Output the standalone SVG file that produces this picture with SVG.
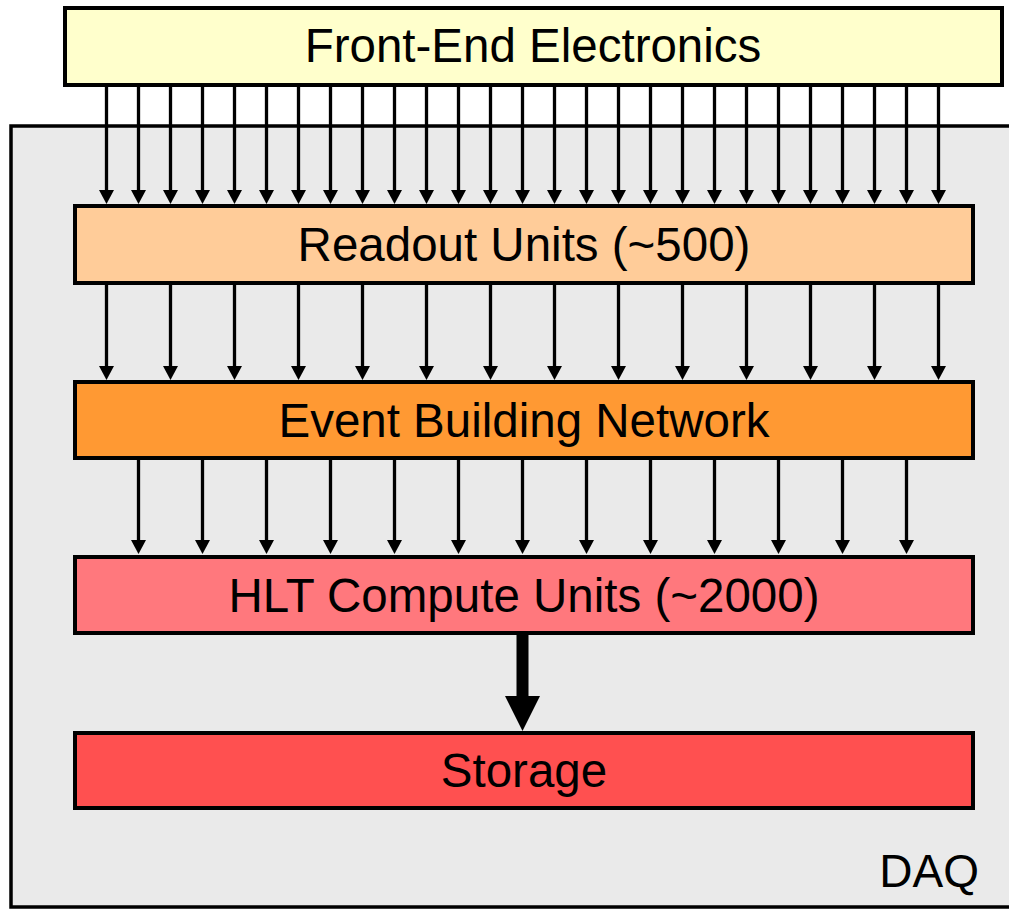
<svg xmlns="http://www.w3.org/2000/svg" width="1009" height="909" viewBox="0 0 1009 909">
  <style>
    .box { stroke: #000; stroke-width: 4; }
    .lbl { font-family: "Liberation Sans", Arial, sans-serif; font-size: 47.5px; fill: #000; text-anchor: middle; }
    .link { stroke: #000; stroke-width: 3.3; fill: none; marker-end: url(#head); }
  </style>
  <defs>
    <marker id="head" markerUnits="userSpaceOnUse" markerWidth="16" markerHeight="16" viewBox="0 0 15 16" refX="2" refY="7.5" orient="auto">
      <path d="M0,0 L14,7.5 L0,15 Z" fill="#000"/>
    </marker>
  </defs>

  <!-- DAQ enclosure -->
  <g id="daq">
    <rect x="11" y="126" width="1010" height="781" fill="#EAEAEA" stroke="#000" stroke-width="3.5"/>
    <text class="lbl" x="979" y="887" style="text-anchor:end;font-size:46px">DAQ</text>
  </g>

  <g id="front-end">
    <rect class="box" x="65" y="8" width="937" height="77" fill="#FFFFCC"/>
    <text class="lbl" x="533" y="62">Front-End Electronics</text>
  </g>

  <g id="readout">
    <rect class="box" x="75" y="206" width="898" height="77" fill="#FFCC99"/>
    <text class="lbl" x="524" y="261">Readout Units (~500)</text>
  </g>

  <g id="event-building">
    <rect class="box" x="75" y="382" width="898" height="76" fill="#FF9933"/>
    <text class="lbl" x="524" y="437">Event Building Network</text>
  </g>

  <g id="hlt">
    <rect class="box" x="75" y="557" width="898" height="76" fill="#FF787D"/>
    <text class="lbl" x="524" y="612">HLT Compute Units (~2000)</text>
  </g>

  <g id="storage">
    <rect class="box" x="75" y="733" width="898" height="75" fill="#FF5050"/>
    <text class="lbl" x="524" y="787">Storage</text>
  </g>

  <g id="connectors">
    <!-- front-end to readout: 27 links, 32 px pitch -->
    <g>
      <path class="link" d="M106.5,87V192"/><path class="link" d="M138.5,87V192"/><path class="link" d="M170.5,87V192"/>
      <path class="link" d="M202.5,87V192"/><path class="link" d="M234.5,87V192"/><path class="link" d="M266.5,87V192"/>
      <path class="link" d="M298.5,87V192"/><path class="link" d="M330.5,87V192"/><path class="link" d="M362.5,87V192"/>
      <path class="link" d="M394.5,87V192"/><path class="link" d="M426.5,87V192"/><path class="link" d="M458.5,87V192"/>
      <path class="link" d="M490.5,87V192"/><path class="link" d="M522.5,87V192"/><path class="link" d="M554.5,87V192"/>
      <path class="link" d="M586.5,87V192"/><path class="link" d="M618.5,87V192"/><path class="link" d="M650.5,87V192"/>
      <path class="link" d="M682.5,87V192"/><path class="link" d="M714.5,87V192"/><path class="link" d="M746.5,87V192"/>
      <path class="link" d="M778.5,87V192"/><path class="link" d="M810.5,87V192"/><path class="link" d="M842.5,87V192"/>
      <path class="link" d="M874.5,87V192"/><path class="link" d="M906.5,87V192"/><path class="link" d="M938.5,87V192"/>
    </g>
    <!-- readout to event building: 14 links, 64 px pitch -->
    <g>
      <path class="link" d="M106.5,285V368"/><path class="link" d="M170.5,285V368"/><path class="link" d="M234.5,285V368"/>
      <path class="link" d="M298.5,285V368"/><path class="link" d="M362.5,285V368"/><path class="link" d="M426.5,285V368"/>
      <path class="link" d="M490.5,285V368"/><path class="link" d="M554.5,285V368"/><path class="link" d="M618.5,285V368"/>
      <path class="link" d="M682.5,285V368"/><path class="link" d="M746.5,285V368"/><path class="link" d="M810.5,285V368"/>
      <path class="link" d="M874.5,285V368"/><path class="link" d="M938.5,285V368"/>
    </g>
    <!-- event building to HLT: 13 links, 64 px pitch -->
    <g>
      <path class="link" d="M138.5,460V542"/><path class="link" d="M202.5,460V542"/><path class="link" d="M266.5,460V542"/>
      <path class="link" d="M330.5,460V542"/><path class="link" d="M394.5,460V542"/><path class="link" d="M458.5,460V542"/>
      <path class="link" d="M522.5,460V542"/><path class="link" d="M586.5,460V542"/><path class="link" d="M650.5,460V542"/>
      <path class="link" d="M714.5,460V542"/><path class="link" d="M778.5,460V542"/><path class="link" d="M842.5,460V542"/>
      <path class="link" d="M906.5,460V542"/>
    </g>
    <!-- HLT to storage: thick arrow -->
    <g>
      <rect x="516.5" y="635" width="12" height="62" fill="#000"/>
      <path d="M505,696 L540,696 L522.5,731 Z" fill="#000"/>
    </g>
  </g>
</svg>
